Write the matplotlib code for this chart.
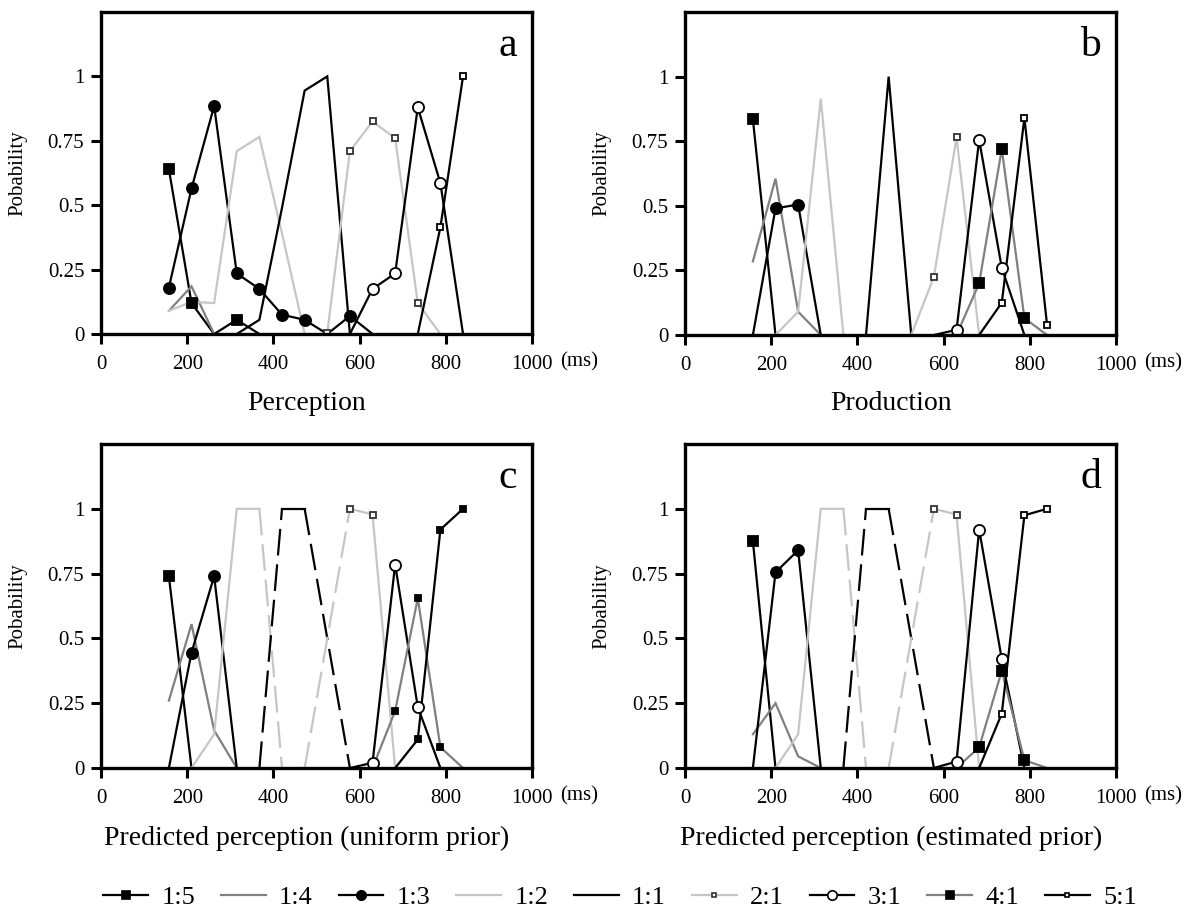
import matplotlib
matplotlib.use("Agg")
import matplotlib.pyplot as plt
from matplotlib.lines import Line2D

plt.rcParams['font.family'] = ['Liberation Serif', 'DejaVu Serif']

N = None

# stimulus durations (ms) on the x axis
X_MS = [157.5, 210, 262.5, 315, 367.5, 420, 472.5, 525, 577.5, 630, 682.5, 735, 787.5, 840]

RATIOS = ["1:5", "1:4", "1:3", "1:2", "1:1", "2:1", "3:1", "4:1", "5:1"]

# panel a : perception
A_15 = [0.64, 0.12, 0, 0.055, 0, N, N, N, N, N, N, N, N, N]
A_14 = [0.09, 0.185, 0, N, N, N, N, N, N, N, N, N, N, N]
A_13 = [0.18, 0.565, 0.885, 0.235, 0.175, 0.075, 0.055, 0, 0.07, 0, N, N, N, N]
A_12 = [0.09, 0.125, 0.12, 0.71, 0.765, 0.39, 0, N, N, N, N, N, N, N]
A_11 = [N, N, N, 0, 0.055, 0.49, 0.945, 1.0, 0, N, N, N, N, N]
A_21 = [N, N, N, N, N, N, N, 0.004, 0.71, 0.825, 0.76, 0.12, 0, N]
A_31 = [N, N, N, N, N, N, N, N, 0, 0.175, 0.235, 0.88, 0.585, 0]
A_41 = [N, N, N, N, N, N, N, N, N, N, N, N, N, N]
A_51 = [N, N, N, N, N, N, N, N, N, N, N, 0, 0.415, 1.0]

# panel b : production
B_15 = [0.835, 0, N, N, N, N, N, N, N, N, N, N, N, N]
B_14 = [0.285, 0.605, 0.09, 0, N, N, N, N, N, N, N, N, N, N]
B_13 = [0, 0.49, 0.505, 0, N, N, N, N, N, N, N, N, N, N]
B_12 = [N, 0, 0.09, 0.915, 0, N, N, N, N, N, N, N, N, N]
B_11 = [N, N, N, N, N, 0, 1.0, 0, N, N, N, N, N, N]
B_21 = [N, N, N, N, N, N, N, 0, 0.225, 0.765, 0, N, N, N]
B_31 = [N, N, N, N, N, N, N, N, 0, 0.02, 0.755, 0.26, 0, N]
B_41 = [N, N, N, N, N, N, N, N, N, 0, 0.2, 0.72, 0.065, 0]
B_51 = [N, N, N, N, N, N, N, N, N, N, 0, 0.125, 0.84, 0.04]

# panel c : predicted perception, uniform prior
C_15 = [0.74, 0, N, N, N, N, N, N, N, N, N, N, N, N]
C_14 = [0.26, 0.555, 0.145, 0, N, N, N, N, N, N, N, N, N, N]
C_13 = [0, 0.445, 0.74, 0, N, N, N, N, N, N, N, N, N, N]
C_12 = [N, 0, 0.13, 1.0, 1.0, 0, N, N, N, N, N, N, N, N]
C_11 = [N, N, N, N, 0, 1.0, 1.0, N, 0, N, N, N, N, N]
C_21 = [N, N, N, N, N, N, 0, N, 1.0, 0.978, 0, N, N, N]
C_31 = [N, N, N, N, N, N, N, N, 0, 0.02, 0.785, 0.235, 0, N]
C_41 = [N, N, N, N, N, N, N, N, N, 0, 0.22, 0.655, 0.08, 0]
C_51 = [N, N, N, N, N, N, N, N, N, N, 0, 0.11, 0.92, 1.0]

# panel d : predicted perception, estimated prior
D_15 = [0.875, 0, N, N, N, N, N, N, N, N, N, N, N, N]
D_14 = [0.13, 0.25, 0.045, 0, N, N, N, N, N, N, N, N, N, N]
D_13 = [0, 0.755, 0.84, 0, N, N, N, N, N, N, N, N, N, N]
D_12 = [N, 0, 0.13, 1.0, 1.0, 0, N, N, N, N, N, N, N, N]
D_11 = [N, N, N, N, 0, 1.0, 1.0, N, 0, N, N, N, N, N]
D_21 = [N, N, N, N, N, N, 0, N, 1.0, 0.978, 0, N, N, N]
D_31 = [N, N, N, N, N, N, N, N, 0, 0.025, 0.92, 0.42, 0, N]
D_41 = [N, N, N, N, N, N, N, N, N, 0, 0.08, 0.375, 0.03, 0]
D_51 = [N, N, N, N, N, N, N, N, N, N, 0, 0.21, 0.975, 1.0]

# segments (index pairs) drawn dashed in the prediction panels
PRED_DASHED = {"1:2": [(4, 5)], "1:1": [(4, 5), (6, 8)], "2:1": [(6, 8)]}

PANELS = [
    ("a", "Perception", [A_15, A_14, A_13, A_12, A_11, A_21, A_31, A_41, A_51], {}),
    ("b", "Production", [B_15, B_14, B_13, B_12, B_11, B_21, B_31, B_41, B_51], {}),
    ("c", "Predicted perception (uniform prior)",
     [C_15, C_14, C_13, C_12, C_11, C_21, C_31, C_41, C_51], PRED_DASHED),
    ("d", "Predicted perception (estimated prior)",
     [D_15, D_14, D_13, D_12, D_11, D_21, D_31, D_41, D_51], PRED_DASHED),
]

GREY = "#808080"
LIGHT = "#c6c6c6"

# line colour, marker, marker size, marker face, marker edge
STYLE = {
    "1:5": ("black", "s", 7, "black", "black"),
    "1:4": (GREY, None, 0, None, None),
    "1:3": ("black", "o", 8, "black", "black"),
    "1:2": (LIGHT, None, 0, None, None),
    "1:1": ("black", None, 0, None, None),
    "2:1": (LIGHT, "s", 4, "white", "#333333"),
    "3:1": ("black", "o", 8, "white", "black"),
    "4:1": (GREY, "s", 7, "black", "black"),
    "5:1": ("black", "s", 4, "white", "black"),
}
# panel c uses small filled squares for 4:1 and 5:1
STYLE_C = {
    "4:1": (GREY, "s", 4, "black", "black"),
    "5:1": ("black", "s", 4, "black", "black"),
}

LW = 1.6
DASH = (12, 4)


def draw_series(ax, vals, style, dashed):
    color, marker, ms, mfc, mec = style
    pts = [(i, v) for i, v in enumerate(vals) if v is not None]
    if len(pts) < 2:
        return
    # group consecutive segments by line style
    runs = []
    for (i0, v0), (i1, v1) in zip(pts[:-1], pts[1:]):
        dsh = (i0, i1) in dashed
        if runs and runs[-1][0] == dsh:
            runs[-1][1].append((i1, v1))
        else:
            runs.append([dsh, [(i0, v0), (i1, v1)]])
    for dsh, run in runs:
        xs = [X_MS[i] for i, _ in run]
        ys = [v for _, v in run]
        if dsh:
            ax.plot(xs, ys, color=color, lw=LW, ls="--", dashes=DASH, zorder=2)
        else:
            ax.plot(xs, ys, color=color, lw=LW, solid_joinstyle="miter", zorder=2)
    if marker:
        mx = [X_MS[i] for i, v in pts if v > 0]
        my = [v for i, v in pts if v > 0]
        ax.plot(mx, my, ls="none", marker=marker, ms=ms, mfc=mfc, mec=mec,
                mew=1.3, zorder=3)


fig = plt.figure(figsize=(11.86, 9.21), dpi=100)
W, H = 1186.0, 921.0
boxes = [(101, 12, 532, 334), (685, 12, 1116, 335),
         (101, 444, 532, 768), (685, 444, 1116, 768)]
title_y = [404, 404, 838, 838]

for (letter, title, series, dashed), (l, t, r, b), ty in zip(PANELS, boxes, title_y):
    ax = fig.add_axes([l / W, 1 - b / H, (r - l) / W, (b - t) / H])
    for ratio, vals in zip(RATIOS, series):
        style = STYLE[ratio]
        if letter == "c" and ratio in STYLE_C:
            style = STYLE_C[ratio]
        draw_series(ax, vals, style, dashed.get(ratio, []))

    ax.set_xlim(0, 1000)
    ax.set_ylim(0, 1.25)
    ax.set_xticks([0, 200, 400, 600, 800, 1000])
    ax.set_yticks([0, 0.25, 0.5, 0.75, 1])
    ax.set_yticklabels(["0", "0.25", "0.5", "0.75", "1"])
    ax.tick_params(direction="out", length=7, width=2.2, labelsize=15)
    ax.tick_params(axis="x", pad=8)
    ax.tick_params(axis="y", pad=5)
    for sp in ax.spines.values():
        sp.set_linewidth(2.4)
        sp.set_zorder(4)
    ax.set_ylabel("Pobability", fontsize=15)
    ax.yaxis.set_label_coords(-0.17, 0.5)
    ax.annotate("(ms)", xy=(1, 0), xycoords="axes fraction", xytext=(20, -13),
                textcoords="offset points", ha="left", va="top", fontsize=15)
    ax.text(0.965, 0.955, letter, transform=ax.transAxes, ha="right", va="top",
            fontsize=30)
    fig.text((l + r) / 2 / W - 0.008, 1 - ty / H, title, ha="center", va="center",
             fontsize=20)

handles = []
for ratio in RATIOS:
    color, marker, ms, mfc, mec = STYLE[ratio]
    handles.append(Line2D([], [], color=color, lw=LW, marker=marker,
                          ms=ms * 0.85 if marker else 0, mfc=mfc, mec=mec, mew=1.2))
fig.legend(handles, RATIOS, loc="center", bbox_to_anchor=(620 / W, 1 - 897 / H),
           ncol=9, frameon=False, fontsize=19, handlelength=1.7,
           handletextpad=0.5, columnspacing=0.98)

fig.savefig("out.png", dpi=100)
